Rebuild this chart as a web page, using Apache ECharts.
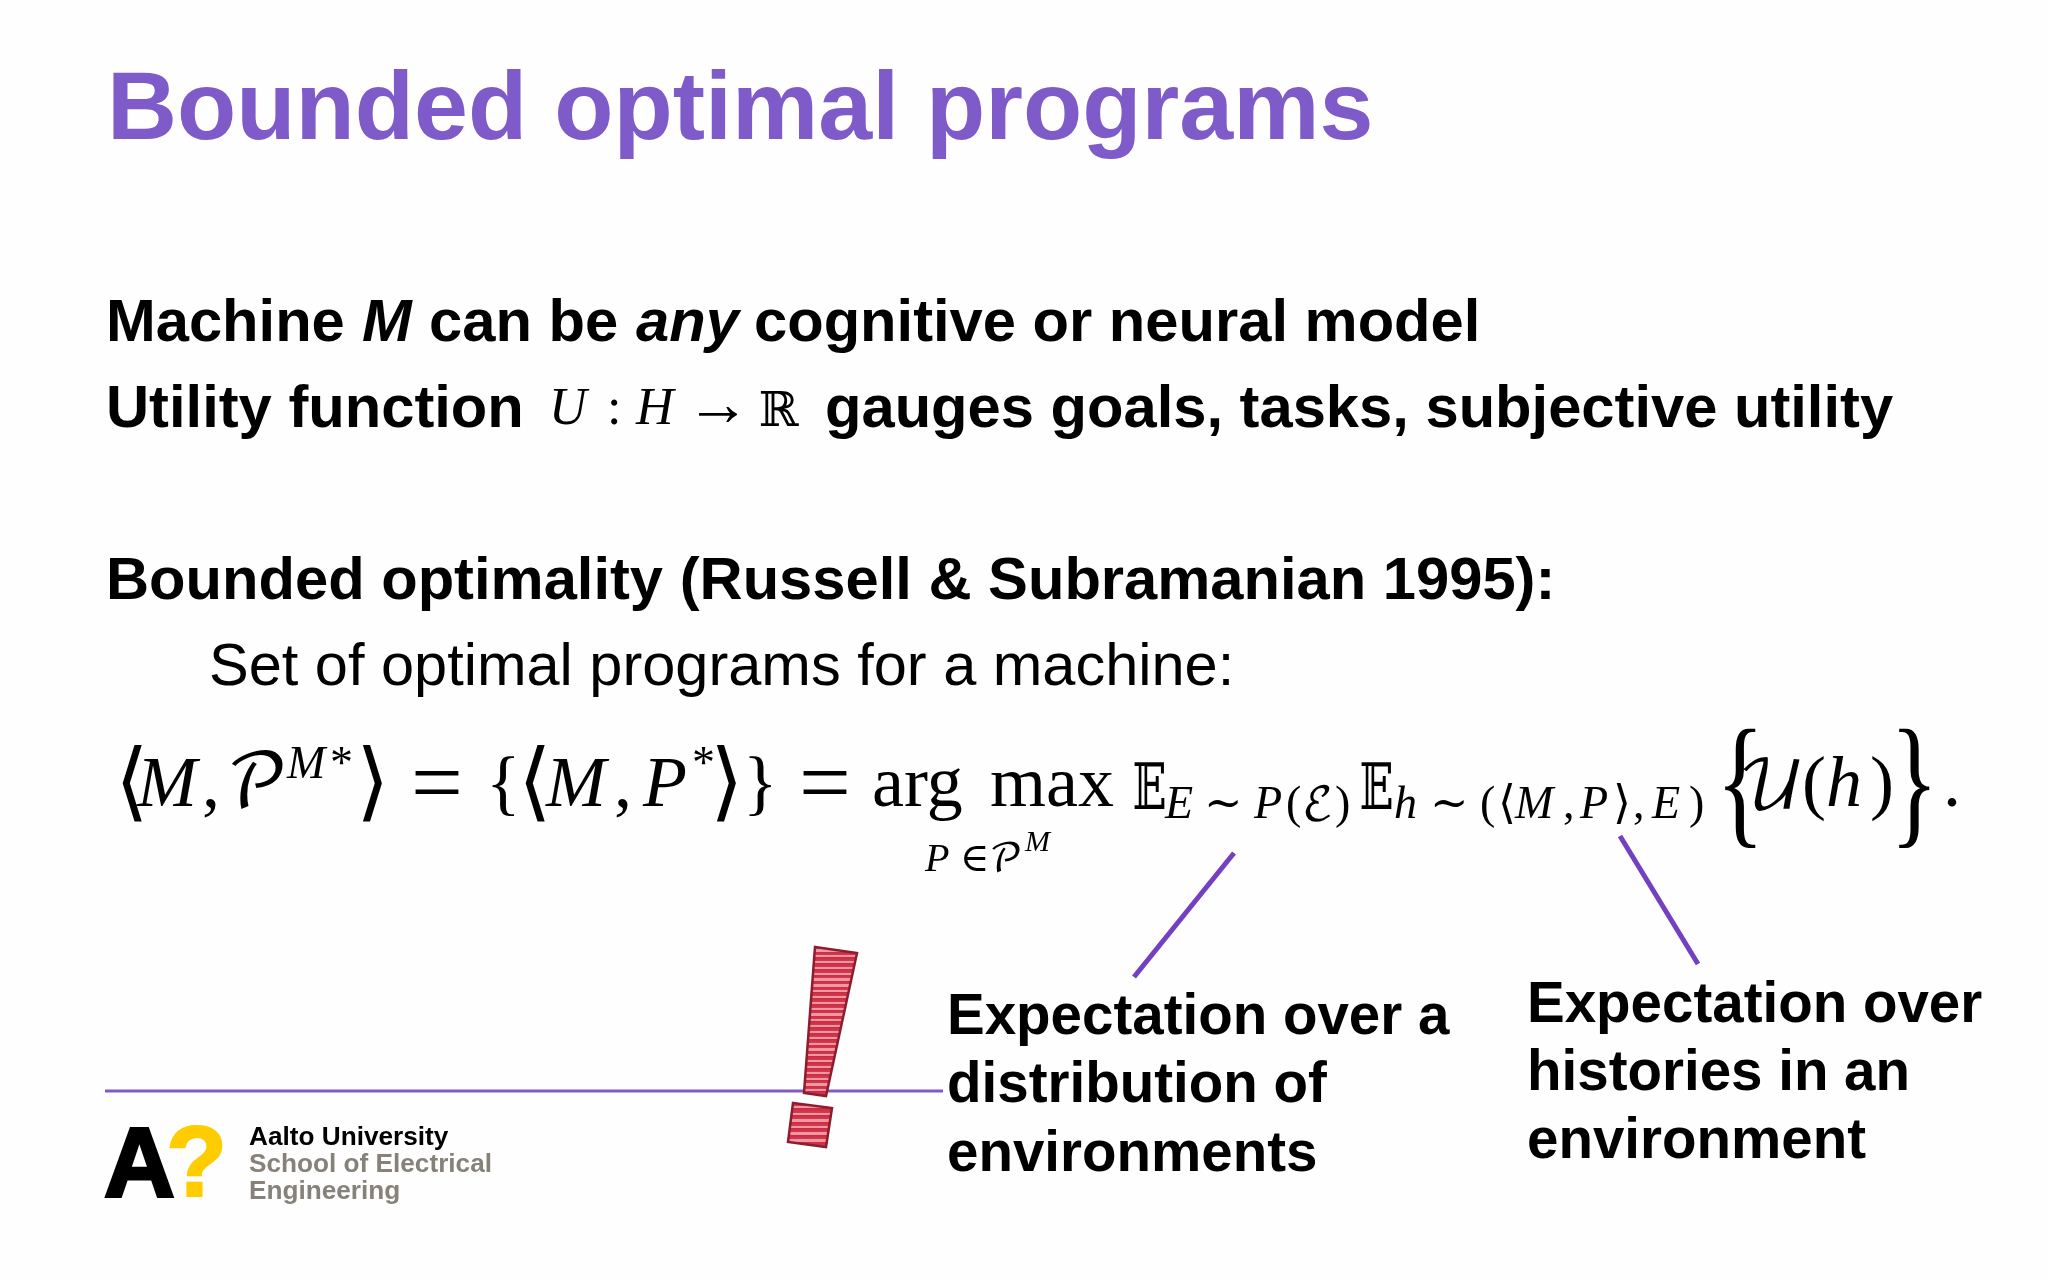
<!DOCTYPE html>
<html>
<head>
<meta charset="utf-8">
<script src="https://cdn.jsdelivr.net/npm/echarts@6/dist/echarts.min.js"></script>
<style>html,body{margin:0;background:#fefefe}#main{width:2048px;height:1280px}</style>
</head>
<body>
<div id="main"></div>
<script>
var titleText = 'Bounded optimal programs';
var line1 = ['Machine', 'M', 'can be', 'any', 'cognitive or neural model'];
var line2 = ['Utility function', 'gauges goals, tasks, subjective utility'];
var line3 = 'Bounded optimality (Russell & Subramanian 1995):';
var line4 = 'Set of optimal programs for a machine:';
var noteLeft = ['Expectation over a', 'distribution of', 'environments'];
var noteRight = ['Expectation over', 'histories in an', 'environment'];
var logoLines = ['Aalto University', 'School of Electrical', 'Engineering'];
var utilityTokens = ['U', ':', 'H', '→', 'ℝ'];
var equationTokens = ['⟨', 'M', ',', '𝒫', 'M', '*', '⟩', '=', '{', '⟨', 'M', ',', 'P', '*', '⟩', '}', '=', 'arg', 'max',
    '𝔼', 'E', '∼', 'P', '(', 'ℰ', ')', '𝔼', 'h', '∼', '(', '⟨', 'M', ',', 'P', '⟩', ',', 'E', ')',
    '{', '𝒰', '(', 'h', ')', '}', '.', 'P', '∈', '𝒫', 'M'];

var PURPLE = '#7f5bc9';
var SERIF = '"Liberation Serif","DejaVu Serif",serif';
var MATH = '"DejaVu Math TeX Gyre","DejaVu Serif",serif';
var SANS = '"Liberation Sans",Arial,sans-serif';

// 基线 -> 文本中线
function txt(s, x, base, size, opt) {
    opt = opt || {};
    var style = {
        text: s,
        x: x,
        y: base - size * 0.34,
        align: 'left',
        verticalAlign: 'middle',
        fill: opt.fill || '#000',
        font: (opt.italic ? 'italic ' : '') + (opt.weight || 'normal') + ' ' + size + 'px ' + (opt.family || SANS)
    };
    if (opt.stroke) {
        style.stroke = opt.fill || '#000';
        style.lineWidth = opt.stroke;
    }
    var el = { type: 'text', style: style };
    if (opt.sx) {
        // 横向压窄，以文字左端为原点
        el.scaleX = opt.sx;
        el.originX = x;
        el.originY = style.y;
    }
    return el;
}

var els = [];
els.push(txt(titleText, 107, 145, 97, { weight: 'bold', fill: PURPLE }));

// 第一行有斜体，拆开画
var l1x = [106, 362, 429, 636, 754];
line1.forEach(function(s, i) {
    els.push(txt(s, l1x[i], 345, 59.7, { weight: 'bold', italic: i == 1 || i == 3 }));
});
els.push(txt(line2[0], 106, 431, 59.7, { weight: 'bold' }));
els.push(txt(line2[1], 825, 431, 59.7, { weight: 'bold' }));
els.push(txt(line3, 106, 603, 59.7, { weight: 'bold' }));
els.push(txt(line4, 209, 689, 59.5));

var utilX = [549, 607, 636, 686, 757];
var utilSize = [52, 52, 52, 64, 48];
utilityTokens.forEach(function(s, i) {
    els.push(txt(s, utilX[i], i == 3 ? 430 : 428, utilSize[i], { family: i == 4 ? MATH : SERIF, italic: i == 0 || i == 2 }));
});

// 公式  [x, 基线, 字号, 斜体, 横向缩放]
var M = 72, S = 46, L = 40, A = 86, B = 144, Q = 92;
var eqLayout = [
    [115, 817, A], [137, 812, M, 1], [202, 812, M], [226, 812, 74], [287, 782, S, 1], [330, 782, S], [356, 817, A],
    [411, 820, Q], [486, 812, M], [518, 817, A], [546, 812, M, 1], [614, 812, M], [643, 812, M, 1], [692, 782, S], [710, 817, A],
    [743, 812, M], [799, 820, Q], [872, 812, M], [990, 812, M],
    [1131, 812, 64, 0, 0.7], [1165, 822, S, 1], [1204, 822, S], [1254, 822, S, 1], [1286, 822, S], [1302, 822, S], [1335, 822, S],
    [1358, 812, 64, 0, 0.7], [1394, 822, S, 1], [1430, 822, S], [1480, 822, S], [1498, 822, S], [1515, 822, S, 1], [1563, 822, S], [1580, 822, S, 1],
    [1613, 822, S], [1633, 822, S], [1652, 822, S, 1], [1689, 822, S],
    [1716, 840, B, 0, 0.7], [1738, 812, 68], [1802, 812, M], [1826, 812, M, 1], [1870, 812, M], [1890, 840, B, 0, 0.7], [1943, 812, M],
    [925, 874, L, 1], [960, 874, L], [989, 874, L], [1025, 853, 30, 1]
];
equationTokens.forEach(function(s, i) {
    var p = eqLayout[i];
    var family = /[𝒫𝔼ℰ𝒰]/u.test(s) ? MATH : SERIF;
    els.push(txt(s, p[0], p[1], p[2], { italic: p[3], family: family, sx: p[4] }));
});

function seg(a, b, w, color) {
    return { type: 'line', shape: { x1: a[0], y1: a[1], x2: b[0], y2: b[1] }, style: { stroke: color, lineWidth: w } };
}
els.push(seg([105, 1091], [943, 1091], 3, PURPLE));
els.push(seg([1234, 853], [1134, 977], 5, '#7340c0'));
els.push(seg([1620, 836], [1698, 964], 5, '#7340c0'));

// 红色感叹号，条纹用渐变做
function stripes(n) {
    var stops = [];
    for (var i = 0; i < n; i++) {
        var a = i / n, b = (i + 1) / n, c = a + (b - a) * 0.62;
        stops.push({ offset: a, color: '#cc2a42' }, { offset: c, color: '#d43a50' }, { offset: c, color: '#ee98a2' }, { offset: b, color: '#ee98a2' });
    }
    return { type: 'linear', x: 0, y: 0, x2: 0, y2: 1, colorStops: stops };
}
function poly(pts, n) {
    return { type: 'polygon', shape: { points: pts }, style: { fill: stripes(n), stroke: '#8f1c2e', lineWidth: 2.5 } };
}
els.push(poly([[815, 947], [857, 953], [826, 1096], [804, 1093]], 26));
els.push(poly([[793, 1103], [832, 1108], [826, 1147], [788, 1142]], 7));

noteLeft.forEach(function(s, i) { els.push(txt(s, 947, [1038, 1106, 1175][i], 56.5, { weight: 'bold' })); });
noteRight.forEach(function(s, i) { els.push(txt(s, 1527, [1026, 1094, 1162][i], 56.5, { weight: 'bold' })); });

// 校徽
els.push(txt('A', 104, 1202, 98, { weight: 'bold', stroke: 3 }));
els.push(txt('?', 166, 1202, 100, { weight: 'bold', fill: '#ffcc00', stroke: 2 }));
logoLines.forEach(function(s, i) {
    els.push(txt(s, 249, [1147, 1174, 1201][i], 26.2, { weight: 'bold', fill: i == 0 ? '#000' : '#86827a' }));
});

var myChart = echarts.init(document.getElementById('main'));
myChart.setOption({
    backgroundColor: '#fefefe',
    animation: false,
    graphic: { elements: els }
});
</script>
</body>
</html>
